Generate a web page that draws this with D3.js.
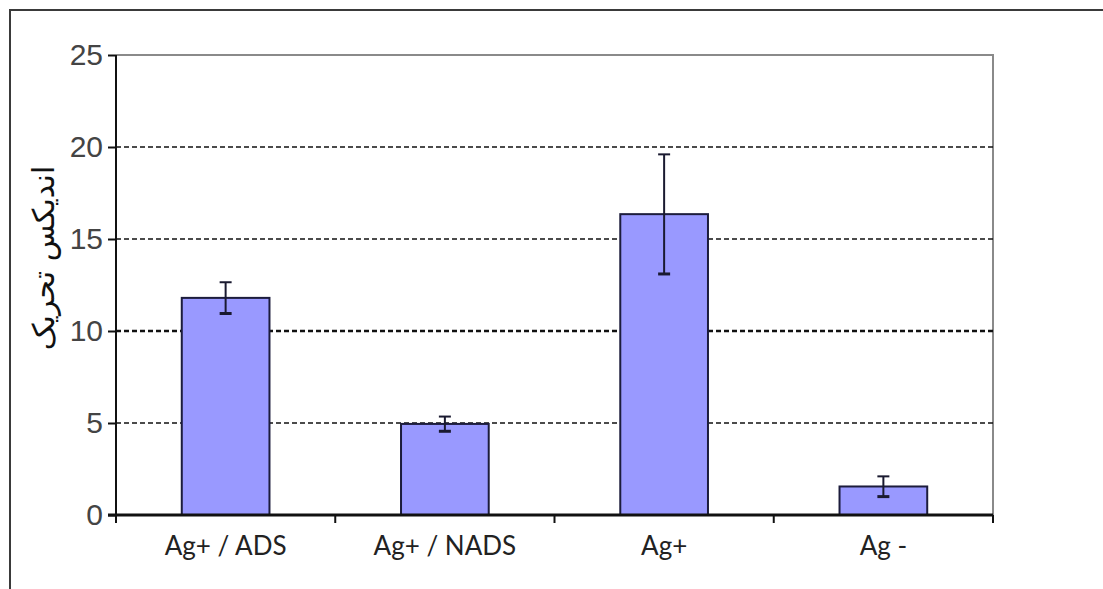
<!DOCTYPE html>
<html>
<head>
<meta charset="utf-8">
<script src="https://cdn.jsdelivr.net/npm/d3@7"></script>
<style>
  html, body { margin: 0; padding: 0; background: #fff; }
  svg { display: block; }
</style>
</head>
<body>
<svg id="chart" width="1103" height="589"></svg>
<script>
const categories = ["Ag+ / ADS", "Ag+ / NADS", "Ag+", "Ag -"];
const values = [11.8, 4.95, 16.35, 1.55];
const errors = [0.85, 0.4, 3.25, 0.55];
const yTicks = [0, 5, 10, 15, 20, 25];
const gridValues = [5, 10, 15, 20];
const yLabel = "اندیکس تحریک";

(function () {
const svg = d3.select("#chart");
const W = 1103, H = 589;
const pLeft = 116, pRight = 993, pTop = 55, pBottom = 515;

svg.append("rect").attr("width", W).attr("height", H).attr("fill", "#fff");

// outer frame (top + left visible)
svg.append("path")
  .attr("d", `M10,${H} L10,10 L${W},10`)
  .attr("fill", "none").attr("stroke", "#3a3a3a").attr("stroke-width", 2);

const x = d3.scaleBand().domain(categories).range([pLeft, pRight])
  .paddingInner(0.6).paddingOuter(0.3);
const xEdge = d3.scaleLinear().domain([0, categories.length]).range([pLeft, pRight]);
const y = d3.scaleLinear().domain([0, 25]).range([pBottom, pTop]);

// plot area border (top + right)
svg.append("path")
  .attr("d", `M${pLeft},${y(25)} L${pRight},${y(25)} L${pRight},${pBottom}`)
  .attr("fill", "none").attr("stroke", "#8a8a8a").attr("stroke-width", 2);

// gridlines
svg.append("g").selectAll("line").data(gridValues).join("line")
  .attr("x1", pLeft).attr("x2", pRight)
  .attr("y1", d => y(d)).attr("y2", d => y(d))
  .attr("stroke", "#111")
  .attr("stroke-width", d => d === 10 ? 2.6 : 1.3)
  .attr("stroke-dasharray", "5,3");

// bars
svg.append("g").selectAll("rect").data(categories).join("rect")
  .attr("x", d => x(d))
  .attr("y", (d, i) => y(values[i]))
  .attr("width", x.bandwidth())
  .attr("height", (d, i) => y(0) - y(values[i]))
  .attr("fill", "#9999ff")
  .attr("stroke", "#1c1c3c")
  .attr("stroke-width", 2);

// error bars
const eg = svg.append("g").attr("stroke", "#1a1a30").attr("stroke-width", 2);
categories.forEach((c, i) => {
  const cx = x(c) + x.bandwidth() / 2;
  const hi = y(values[i] + errors[i]), lo = y(values[i] - errors[i]);
  eg.append("line").attr("x1", cx).attr("x2", cx).attr("y1", hi).attr("y2", lo);
  eg.append("line").attr("x1", cx - 6).attr("x2", cx + 6).attr("y1", hi).attr("y2", hi);
  eg.append("line").attr("x1", cx - 6).attr("x2", cx + 6).attr("y1", lo).attr("y2", lo).attr("stroke-width", 3);
});

// y axis
const yAxis = svg.append("g").attr("transform", `translate(${pLeft},0)`)
  .call(d3.axisLeft(y).tickValues(yTicks).tickSize(8).tickSizeOuter(0).tickPadding(5));
yAxis.select(".domain").remove();
yAxis.selectAll(".tick line").attr("stroke", "#111").attr("stroke-width", 2);
yAxis.selectAll(".tick text")
  .attr("font-family", "Liberation Sans, Arial, sans-serif")
  .attr("font-size", 30).attr("fill", "#444");
svg.append("line").attr("x1", pLeft).attr("x2", pLeft).attr("y1", pTop).attr("y2", pBottom + 8)
  .attr("stroke", "#111").attr("stroke-width", 2);

// x axis line + boundary ticks
svg.append("line").attr("x1", pLeft - 8).attr("x2", pRight).attr("y1", pBottom).attr("y2", pBottom)
  .attr("stroke", "#111").attr("stroke-width", 3);
svg.append("g").selectAll("line").data(d3.range(1, categories.length + 1)).join("line")
  .attr("x1", d => xEdge(d)).attr("x2", d => xEdge(d))
  .attr("y1", pBottom).attr("y2", pBottom + 8)
  .attr("stroke", "#111").attr("stroke-width", 2);

// x labels
const xAxis = svg.append("g").attr("transform", `translate(0,${pBottom})`)
  .call(d3.axisBottom(x).tickSize(0).tickPadding(22));
xAxis.select(".domain").remove();
xAxis.selectAll(".tick text")
  .attr("font-family", "Lato, Open Sans, sans-serif")
  .attr("font-size", 26).attr("fill", "#222");

// y label (Persian)
svg.append("text")
  .attr("transform", "translate(54,258) rotate(-90)")
  .attr("text-anchor", "middle")
  .attr("direction", "rtl")
  .attr("font-family", "DejaVu Sans, sans-serif")
  .attr("font-size", 30).attr("fill", "#111")
  .text(yLabel);
})();
</script>
</body>
</html>
